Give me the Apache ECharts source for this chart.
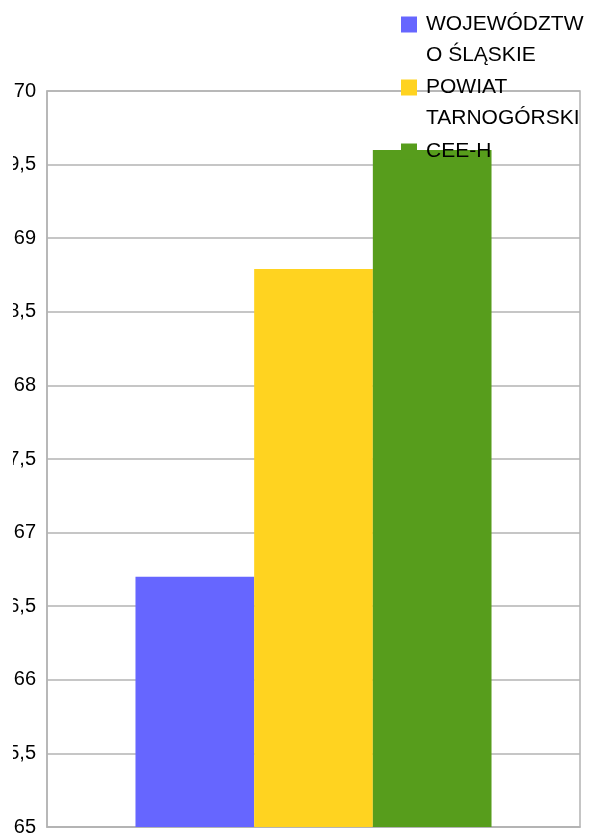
<!DOCTYPE html>
<html>
<head>
<meta charset="utf-8">
<script src="https://cdn.jsdelivr.net/npm/echarts@6/dist/echarts.min.js"></script>
<style>html,body{margin:0;padding:0;background:#fff;overflow:hidden}#c{position:absolute;left:13px;top:0;width:582px;height:837px}</style>
</head>
<body>
<div id="c"></div>
<script>
const categories = [''];
const seriesNames = ['WOJEWÓDZTWO ŚLĄSKIE', 'POWIAT TARNOGÓRSKI', 'CEE-H'];
const legendLabels = ['WOJEWÓDZTW\nO ŚLĄSKIE', 'POWIAT\nTARNOGÓRSKI', 'CEE-H'];
const wojewodztwo = [66.70];
const powiat = [68.79];
const ceeh = [69.60];
const yMin = 65, yMax = 70, yStep = 0.5;

const colors = ['#6666ff', '#ffd320', '#579d1c'];
const seriesData = [wojewodztwo, powiat, ceeh];
const FONT = 'Liberation Sans';
const LH = 31;
const legendTops = [-22, 41, 136];

const chart = echarts.init(document.getElementById('c'), null, {renderer: 'canvas'});
chart.setOption({
  animation: false,
  color: colors,
  grid: {left: 34, top: 91, right: 15, bottom: 10, outerBoundsMode: 'none', containLabel: false,
         show: true, borderColor: '#b3b3b3', borderWidth: 1.5, backgroundColor: 'transparent'},
  legend: seriesNames.map((n, i) => ({
    data: [n],
    orient: 'vertical',
    left: 388,
    top: legendTops[i],
    padding: 0,
    itemWidth: 16,
    itemHeight: 16,
    icon: 'rect',
    selectedMode: false,
    formatter: () => (i < 2 ? '\n' : '') + legendLabels[i],
    textStyle: {
      fontFamily: FONT, fontSize: 21, color: '#000', lineHeight: LH,
      padding: [0, 0, 0, 4]
    }
  })),
  xAxis: {
    type: 'category',
    data: categories,
    axisLine: {show: true, lineStyle: {color: '#b3b3b3', width: 1.5}},
    axisTick: {show: false},
    axisLabel: {show: false}
  },
  yAxis: {
    type: 'value',
    min: yMin, max: yMax, interval: yStep,
    axisLine: {show: true, lineStyle: {color: '#b3b3b3', width: 1.5}},
    axisTick: {show: false},
    splitLine: {lineStyle: {color: '#b3b3b3', width: 1.5}},
    axisLabel: {
      fontFamily: FONT, fontSize: 20, color: '#000', margin: 11,
      formatter: v => String(v).replace('.', ',')
    }
  },
  series: seriesNames.map((n, i) => ({
    name: n,
    type: 'bar',
    data: seriesData[i],
    barGap: '0%',
    barCategoryGap: '33.2%',
    itemStyle: {color: colors[i]}
  }))
});
</script>
</body>
</html>
